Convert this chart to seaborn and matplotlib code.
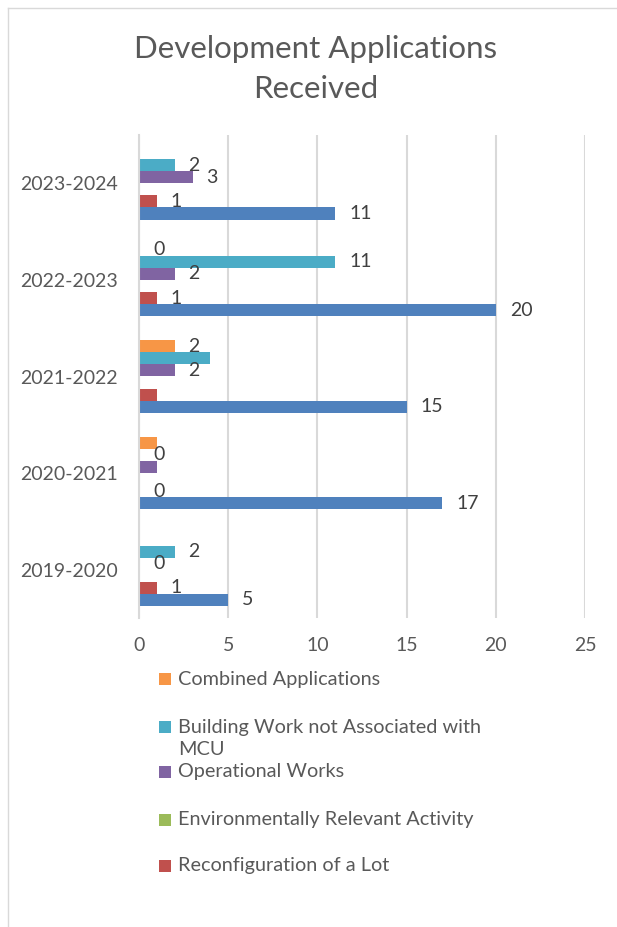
import matplotlib
matplotlib.use("Agg")
import matplotlib.pyplot as plt
import seaborn as sns
import pandas as pd
from matplotlib.patches import Rectangle
from matplotlib.lines import Line2D

# ---- data ----
years = ["2023-2024", "2022-2023", "2021-2022", "2020-2021", "2019-2020"]
series = ["Combined Applications",
          "Building Work not Associated with MCU",
          "Operational Works",
          "Environmentally Relevant Activity",
          "Reconfiguration of a Lot",
          "Material Change of Use"]
combined = [0, 0, 2, 1, 0]
building = [2, 11, 4, 0, 2]
operational = [3, 2, 2, 1, 0]
era = [0, 0, 0, 0, 0]
reconfig = [1, 1, 1, 0, 1]
mcu = [11, 20, 15, 17, 5]
values = [combined, building, operational, era, reconfig, mcu]
# which points carry a data label (as in the reference)
show_label = [
    [False, True, True, False, False],
    [True, True, False, True, True],
    [True, True, True, False, True],
    [False, False, False, False, False],
    [True, True, False, True, True],
    [True, True, True, True, True],
]
legend_labels = ["Combined Applications",
                 "Building Work not Associated with\nMCU",
                 "Operational Works",
                 "Environmentally Relevant Activity",
                 "Reconfiguration of a Lot"]
colors = ["#F79646", "#4BACC6", "#8064A2", "#9BBB59", "#C0504D", "#4F81BD"]
x_ticks = [0, 5, 10, 15, 20, 25]

rows = []
for s, vals in zip(series, values):
    for y, v in zip(years, vals):
        rows.append({"Year": y, "Type": s, "Count": v})
df = pd.DataFrame(rows)

W, H = 617, 927
FONT = ["Lato", "DejaVu Sans"]
plt.rcParams["font.family"] = FONT
TXT = "#595959"

fig = plt.figure(figsize=(W / 100, H / 100), dpi=100)
fig.patch.set_facecolor("white")
ax = fig.add_axes([139 / W, 1 - 618 / H, 446 / W, 483 / H])

sns.barplot(data=df, y="Year", x="Count", hue="Type", order=years,
            hue_order=series, palette=dict(zip(series, colors)),
            orient="h", width=0.75, gap=0, errorbar=None, saturation=1,
            legend=False, linewidth=0, ax=ax)

ax.set_xlim(0, 25)
ax.set_ylim(4.5, -0.5)
ax.set_xticks(x_ticks)
ax.set_xticklabels([str(t) for t in x_ticks])
ax.set_xlabel("")
ax.set_ylabel("")
ax.xaxis.grid(True, color="#D9D9D9", linewidth=1.5)
ax.yaxis.grid(False)
ax.set_axisbelow(True)
for side in ["top", "right", "bottom"]:
    ax.spines[side].set_visible(False)
ax.spines["left"].set_color("#D9D9D9")
ax.spines["left"].set_linewidth(1.5)
ax.tick_params(axis="both", length=0, labelsize=14, labelcolor=TXT)
ax.tick_params(axis="y", pad=15)
ax.tick_params(axis="x", pad=14)

# data labels
for si, cont in enumerate(ax.containers):
    labs = []
    for bar in cont:
        yi = int(round(bar.get_y() + bar.get_height() / 2))
        labs.append(str(values[si][yi]) if show_label[si][yi] else "")
    ax.bar_label(cont, labels=labs, padding=10, fontsize=14, color="#404040")

# title
fig.text(316 / W, 1 - 69 / H, "Development Applications\nReceived",
         ha="center", va="center", fontsize=22.5, color=TXT, linespacing=1.5)

# legend (manual, Excel-like layout)
leg_text_y = [679, 738.5, 772, 820, 866]
leg_box_y = [679, 727, 772, 820, 866]
for lab, col, yc, yh in zip(legend_labels, colors[:5], leg_text_y, leg_box_y):
    fig.add_artist(Rectangle((159 / W, 1 - (yh + 6) / H), 12 / W, 12 / H,
                             transform=fig.transFigure, facecolor=col,
                             edgecolor="none"))
    fig.text(178 / W, 1 - yc / H, lab, ha="left", va="center", fontsize=14.3,
             color=TXT, linespacing=1.35)

# chart border
fig.add_artist(Line2D([7.5 / W, 7.5 / W], [0, 1 - 7.5 / H],
                      transform=fig.transFigure, color="#D9D9D9", lw=1))
fig.add_artist(Line2D([7.5 / W, 1], [1 - 7.5 / H, 1 - 7.5 / H],
                      transform=fig.transFigure, color="#D9D9D9", lw=1))

fig.savefig("out.png", dpi=100)
